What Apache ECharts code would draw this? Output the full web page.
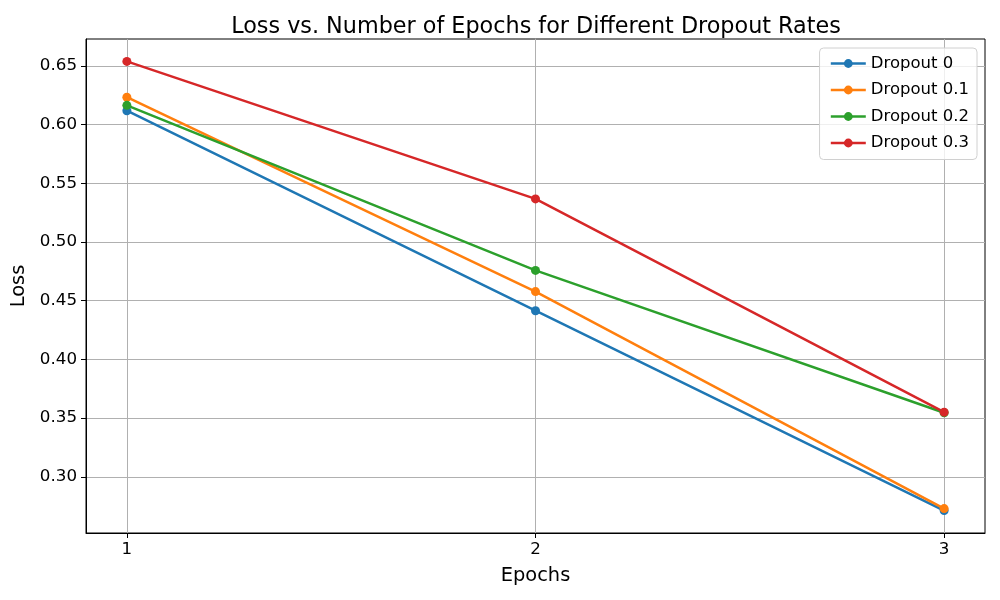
<!DOCTYPE html>
<html>
<head>
<meta charset="utf-8">
<script src="https://cdn.jsdelivr.net/npm/echarts@6/dist/echarts.min.js"></script>
<style>
  html, body { margin: 0; padding: 0; background: #fff; }
  #chart { width: 1000px; height: 600px; }
</style>
</head>
<body>
<div id="chart"></div>
<script>
// data
var epochs = [1, 2, 3];
var seriesNames = ['Dropout 0', 'Dropout 0.1', 'Dropout 0.2', 'Dropout 0.3'];
var dropout0 = [0.6117, 0.4414, 0.2712];
var dropout01 = [0.6232, 0.4577, 0.2729];
var dropout02 = [0.6163, 0.4757, 0.3545];
var dropout03 = [0.6537, 0.5366, 0.3550];
var yTicks = [0.30, 0.35, 0.40, 0.45, 0.50, 0.55, 0.60, 0.65];
var colors = ['#1f77b4', '#ff7f0e', '#2ca02c', '#d62728'];

var font = 'DejaVu Sans';
var allValues = [dropout0, dropout01, dropout02, dropout03];

function pairs(vals) {
  return epochs.map(function (e, i) { return [e, vals[i]]; });
}

var myChart = echarts.init(document.getElementById('chart'), null, { renderer: 'canvas' });

var option = {
  animation: false,
  color: colors,
  title: {
    text: 'Loss vs. Number of Epochs for Different Dropout Rates',
    left: 531, top: 11, textAlign: 'center',
    textStyle: { fontFamily: font, fontSize: 22.3, fontWeight: 'normal', color: '#000' }
  },
  legend: {
    orient: 'vertical',
    right: 23, top: 48,
    padding: [7, 8, 8, 10],
    itemWidth: 35, itemHeight: 11,
    itemGap: 9.5,
    backgroundColor: 'rgba(255,255,255,0.8)',
    borderColor: '#d0d0d0', borderWidth: 1, borderRadius: 4,
    lineStyle: { width: 2.5 },
    textStyle: { fontFamily: font, fontSize: 16.5, color: '#000', padding: [3, 0, 3, 0] },
    data: seriesNames
  },
  grid: {
    left: 86, right: 15, top: 39, bottom: 67,
    show: true, borderColor: '#000', borderWidth: 1
  },
  xAxis: {
    type: 'value', min: 0.9, max: 3.1,
    name: 'Epochs', nameLocation: 'middle', nameGap: 33,
    nameTextStyle: { fontFamily: font, fontSize: 19.4, color: '#000' },
    axisLine: { show: true, lineStyle: { color: '#000' } },
    axisTick: { show: true, customValues: epochs, length: 5, lineStyle: { color: '#000' } },
    axisLabel: { customValues: epochs, fontFamily: font, fontSize: 16.7, color: '#000', margin: 8 },
    splitLine: { show: true, lineStyle: { color: '#b0b0b0', width: 1 } }
  },
  yAxis: {
    type: 'value', min: 0.2521, max: 0.6728,
    name: 'Loss', nameLocation: 'middle', nameGap: 46, nameRotate: 90,
    nameTextStyle: { fontFamily: font, fontSize: 19.4, color: '#000' },
    axisLine: { show: true, lineStyle: { color: '#000' } },
    axisTick: { show: true, customValues: yTicks, length: 5, lineStyle: { color: '#000' } },
    axisLabel: {
      customValues: yTicks, fontFamily: font, fontSize: 16.7, color: '#000', margin: 9,
      formatter: function (v) { return v.toFixed(2); }
    },
    splitLine: { show: true, lineStyle: { color: '#b0b0b0', width: 1 } }
  },
  series: allValues.map(function (vals, i) {
    return {
      name: seriesNames[i],
      type: 'line',
      data: pairs(vals),
      symbol: 'circle', symbolSize: 9,
      lineStyle: { width: 2.5, color: colors[i] },
      itemStyle: { color: colors[i] }
    };
  })
};

myChart.setOption(option);
window.addEventListener('resize', myChart.resize);
</script>
</body>
</html>
